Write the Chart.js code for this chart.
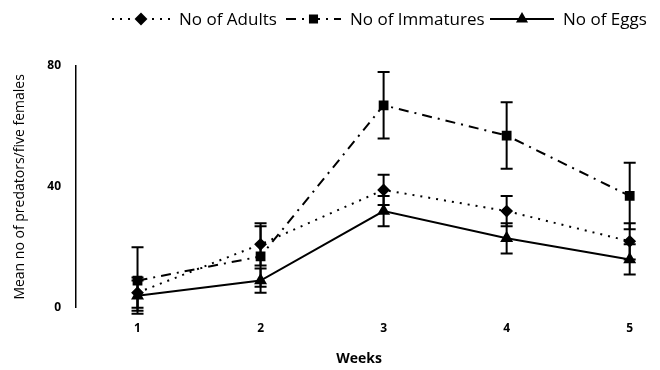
<!DOCTYPE html>
<html>
<head>
<meta charset="utf-8">
<script src="https://cdn.jsdelivr.net/npm/chart.js@4"></script>
<style>
body{margin:0;background:#fff;}
#wrap{width:660px;height:370px;}
</style>
</head>
<body>
<div id="wrap"><canvas id="grafico" width="660" height="370"></canvas></div>
<script>
// ==============================
// DATOS
// ==============================

const semanas = [1, 2, 3, 4, 5];

const adultos = [5, 21, 39, 32, 22];
const errAdultos = [5, 7, 5, 5, 6];

const inmaduros = [9, 17, 67, 57, 37];
const errInmaduros = [11, 10, 11, 11, 11];

const huevos = [4, 9, 32, 23, 16];
const errHuevos = [5, 4, 5, 5, 5];

const ticksY = [0, 40, 80];

const fuente = "'Open Sans', 'DejaVu Sans', sans-serif";

// ==============================
// PLUGIN BARRAS DE ERROR
// ==============================

const barrasError = {
id: "barrasError",
afterDatasetsDraw(chart){
const ctx = chart.ctx;
const x = chart.scales.x;
const y = chart.scales.y;
ctx.save();
ctx.strokeStyle = "#000";
ctx.lineWidth = 2;
ctx.setLineDash([]);
chart.data.datasets.forEach(ds => {
ds.data.forEach((p, i) => {
const e = ds.errores[i];
const px = x.getPixelForValue(p.x);
const top = y.getPixelForValue(p.y + e);
const bot = y.getPixelForValue(p.y - e);
ctx.beginPath();
ctx.moveTo(px, top); ctx.lineTo(px, bot);
ctx.moveTo(px - 6, top); ctx.lineTo(px + 6, top);
ctx.moveTo(px - 6, bot); ctx.lineTo(px + 6, bot);
ctx.stroke();
});
});
ctx.restore();
}
};

// ==============================
// PLUGIN LEYENDA
// ==============================

const leyenda = {
id: "leyenda",
afterDraw(chart){
const ctx = chart.ctx;
const items = [
{x: 112, w: 58, texto: "No of Adults", ds: 0},
{x: 286, w: 55, texto: "No of Immatures", ds: 1},
{x: 490, w: 64, texto: "No of Eggs", ds: 2}
];
const yy = 19;
ctx.save();
items.forEach(it => {
const ds = chart.data.datasets[it.ds];
ctx.strokeStyle = "#000";
ctx.lineWidth = 2;
ctx.setLineDash(ds.borderDash || []);
ctx.beginPath();
ctx.moveTo(it.x, yy); ctx.lineTo(it.x + it.w, yy);
ctx.stroke();
ctx.setLineDash([]);
Chart.helpers.drawPoint(ctx, {pointStyle: ds.pointStyle, radius: 5, rotation: 0, borderWidth: 1}, it.x + it.w / 2, yy);
ctx.fillStyle = "#000";
ctx.textBaseline = "middle";
ctx.font = "17px " + fuente;
ctx.fillText(it.texto, it.x + it.w + 9, yy + 1);
});
ctx.restore();
}
};

// ==============================
// GRAFICO
// ==============================

const pares = (vals) => vals.map((v, i) => ({x: semanas[i], y: v}));

const ctx = document.getElementById("grafico").getContext("2d");

let grafico = new Chart(ctx, {

type: "line",

data: {
datasets: [{
label: "No of Adults",
data: pares(adultos),
errores: errAdultos,
borderColor: "#000",
backgroundColor: "#000",
borderWidth: 2,
borderDash: [2, 6],
pointStyle: "rectRot",
pointRadius: 5,
tension: 0
},{
label: "No of Immatures",
data: pares(inmaduros),
errores: errInmaduros,
borderColor: "#000",
backgroundColor: "#000",
borderWidth: 2,
borderDash: [10, 6, 2, 6],
pointStyle: "rect",
pointRadius: 5.5,
tension: 0
},{
label: "No of Eggs",
data: pares(huevos),
errores: errHuevos,
borderColor: "#000",
backgroundColor: "#000",
borderWidth: 2,
pointStyle: "triangle",
pointRadius: 5.5,
tension: 0
}]
},

options: {
responsive: false,
animation: false,
layout: {padding: {left: 0, right: 18, top: 66, bottom: 3}},
plugins: {
legend: {display: false},
tooltip: {enabled: false}
},
scales: {
x: {
type: "linear",
min: 0.5,
max: 5.1,
afterBuildTicks: (s) => { s.ticks = semanas.map(v => ({value: v})); },
grid: {display: false, drawTicks: false},
border: {display: false},
ticks: {color: "#000", padding: 14, font: {family: fuente, size: 12, weight: "bold"}},
title: {display: true, text: "Weeks", color: "#000", padding: {top: 0, bottom: 0}, font: {family: fuente, size: 14, weight: "bold"}}
},
y: {
min: 0,
max: 80,
afterFit: (s) => { s.width = 76; },
afterBuildTicks: (s) => { s.ticks = ticksY.map(v => ({value: v})); },
grid: {display: false, drawTicks: false},
border: {display: true, color: "#000", width: 1.5},
ticks: {color: "#000", padding: 15, font: {family: fuente, size: 12, weight: "bold"}},
title: {display: true, text: "Mean no of predators/five females", color: "#000", padding: {top: 12, bottom: 0}, font: {family: fuente, size: 14}}
}
}
},

plugins: [barrasError, leyenda]

});
</script>
</body>
</html>
